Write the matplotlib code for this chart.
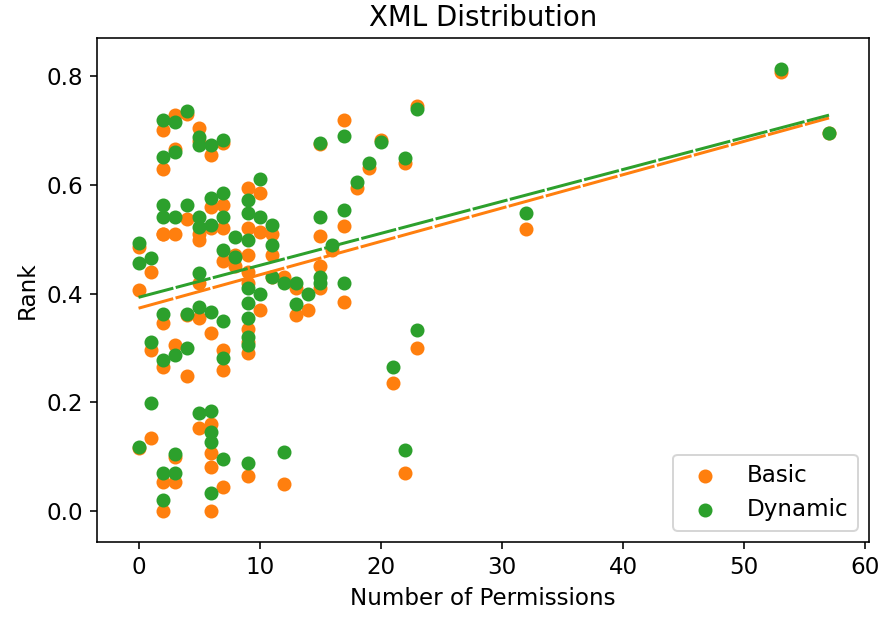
import matplotlib
matplotlib.use("Agg")
import matplotlib.pyplot as plt
import numpy as np

# Number of permissions for each app
permissions = [
    0, 0, 0,
    1, 1, 1,
    2, 2, 2, 2, 2, 2, 2, 2,
    3, 3, 3, 3, 3, 3,
    4, 4, 4, 4,
    5, 5, 5, 5, 5, 5, 5,
    6, 6, 6, 6, 6, 6, 6, 6,
    7, 7, 7, 7, 7, 7, 7,
    8, 8,
    9, 9, 9, 9, 9, 9, 9, 9, 9,
    10, 10, 10,
    11, 11, 11,
    12, 12,
    13, 13,
    14,
    15, 15, 15, 15,
    16,
    17, 17, 17,
    18, 19, 20, 21,
    22, 22,
    23, 23,
    32, 53, 57,
]

basic_rank = [
    0.406, 0.485, 0.115,
    0.44, 0.296, 0.134,
    0.70, 0.629, 0.51, 0.51, 0.345, 0.265, 0.053, 0.0,
    0.728, 0.665, 0.51, 0.305, 0.053, 0.10,
    0.73, 0.538, 0.36, 0.248,
    0.705, 0.68, 0.498, 0.51, 0.42, 0.355, 0.153,
    0.655, 0.56, 0.52, 0.327, 0.16, 0.107, 0.081, 0.0,
    0.676, 0.563, 0.52, 0.46, 0.296, 0.259, 0.044,
    0.47, 0.45,
    0.594, 0.52, 0.47, 0.44, 0.42, 0.335, 0.31, 0.29, 0.064,
    0.585, 0.513, 0.37,
    0.51, 0.47, 0.43,
    0.43, 0.05,
    0.36, 0.41,
    0.37,
    0.675, 0.505, 0.45, 0.41,
    0.48,
    0.72, 0.525, 0.385,
    0.595, 0.63, 0.682, 0.235,
    0.64, 0.07,
    0.745, 0.30,
    0.519, 0.808, 0.695,
]

dynamic_rank = [
    0.456, 0.493, 0.118,
    0.465, 0.31, 0.198,
    0.72, 0.651, 0.563, 0.54, 0.363, 0.278, 0.07, 0.02,
    0.715, 0.66, 0.54, 0.287, 0.07, 0.105,
    0.735, 0.563, 0.363, 0.30,
    0.688, 0.673, 0.54, 0.522, 0.437, 0.375, 0.18,
    0.673, 0.575, 0.526, 0.366, 0.184, 0.145, 0.127, 0.033,
    0.682, 0.585, 0.54, 0.48, 0.35, 0.281, 0.096,
    0.504, 0.467,
    0.572, 0.548, 0.498, 0.41, 0.382, 0.355, 0.32, 0.305, 0.088,
    0.61, 0.54, 0.40,
    0.526, 0.49, 0.43,
    0.42, 0.108,
    0.38, 0.42,
    0.40,
    0.677, 0.54, 0.43, 0.42,
    0.49,
    0.69, 0.553, 0.42,
    0.605, 0.64, 0.678, 0.265,
    0.65, 0.112,
    0.74, 0.333,
    0.548, 0.813, 0.695,
]

# Linear trend coefficients: (intercept, slope)
basic_trend = (0.373, 0.00614)
dynamic_trend = (0.393, 0.00588)

series_labels = ["Basic", "Dynamic"]
series_colors = ["#ff7f0e", "#2ca02c"]

base = 11.5
plt.rcParams["font.size"] = base
plt.rcParams["axes.titlesize"] = base * 1.2
plt.rcParams["legend.fontsize"] = base

fig = plt.figure(figsize=(879 / 144, 618 / 144), dpi=144)
ax = fig.add_axes([97 / 879, 1 - 542 / 618, (869 - 97) / 879, (542 - 38) / 618])

x = np.array(permissions, dtype=float)
ax.scatter(x, basic_rank, color=series_colors[0], label=series_labels[0])
ax.scatter(x, dynamic_rank, color=series_colors[1], label=series_labels[1])

xs = np.array([min(permissions), max(permissions)], dtype=float)
for (b0, b1), col in zip([basic_trend, dynamic_trend], series_colors):
    ax.plot(xs, b0 + b1 * xs, color=col, linestyle=(0, (12, 0.8)), linewidth=1.5)

ax.set_xlim(-3.43, 60.3)
ax.set_ylim(-0.057, 0.87)
ax.set_xticks([0, 10, 20, 30, 40, 50, 60])
ax.set_yticks([0.0, 0.2, 0.4, 0.6, 0.8])
ax.set_title("XML Distribution")
ax.set_xlabel("Number of Permissions")
ax.set_ylabel("Rank")
ax.legend(loc="lower right")

fig.savefig("out.png", dpi=144)
